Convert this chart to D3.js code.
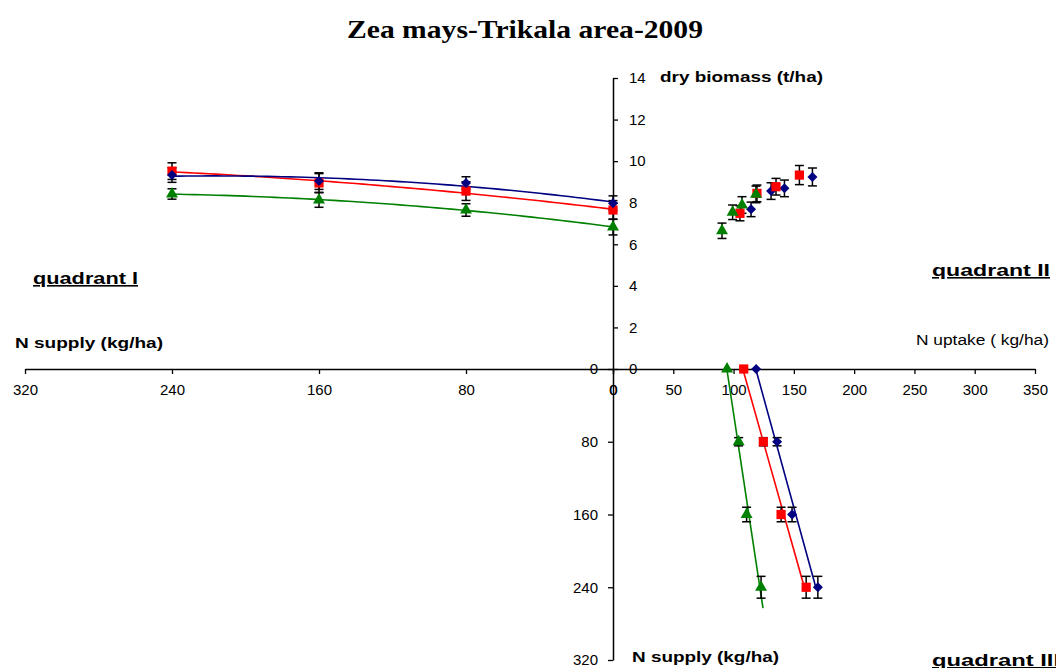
<!DOCTYPE html>
<html>
<head>
<meta charset="utf-8">
<script src="https://cdn.jsdelivr.net/npm/d3@7"></script>
<style>
  html, body { margin: 0; padding: 0; background: #fff; }
  svg { display: block; }
  text { font-family: "Liberation Sans", Arial, sans-serif; }
</style>
</head>
<body>
<svg id="chart" width="1056" height="668"></svg>
<script>
// ---------- tick labels ----------
const biomassTicks = [0, 2, 4, 6, 8, 10, 12, 14];
const supplyTicksLeft = [320, 240, 160, 80, 0];
const uptakeTicks = [0, 50, 100, 150, 200, 250, 300, 350];
const supplyTicksDown = [0, 80, 160, 240, 320];

// ---------- quadrant I : N supply vs dry biomass ----------
const q1Supply = [240, 160, 80, 0];
const q1Blue = [9.33, 9.04, 8.95, 7.98];
const q1Red = [9.52, 8.95, 8.56, 7.65];
const q1Green = [8.42, 8.13, 7.65, 6.83];
const q1BlueErr = [0.35, 0.4, 0.3, 0.35];
const q1RedErr = [0.4, 0.45, 0.45, 0.45];
const q1GreenErr = [0.25, 0.35, 0.3, 0.38];

// ---------- quadrant II : N uptake vs dry biomass ----------
const q2BlueUptake = [114.5, 131.1, 142.2, 165.4];
const q2BlueBiomass = [7.68, 8.56, 8.69, 9.24];
const q2RedUptake = [105.3, 119.4, 135.2, 154.6];
const q2RedBiomass = [7.49, 8.45, 8.77, 9.33];
const q2GreenUptake = [90.4, 99.2, 107.0, 118.6];
const q2GreenBiomass = [6.65, 7.54, 7.89, 8.40];
const q2BlueErr = [0.35, 0.4, 0.4, 0.43];
const q2RedErr = [0.36, 0.4, 0.4, 0.46];
const q2GreenErr = [0.37, 0.35, 0.4, 0.4];

// ---------- quadrant III : N uptake vs N supply ----------
const q3Supply = [0, 80, 160, 240];
const q3Blue = [118.7, 136.1, 148.5, 169.9];
const q3Red = [108.4, 124.7, 139.4, 160.2];
const q3Green = [94.6, 104.2, 110.8, 122.8];
const q3Err = [0, 4.5, 8, 12];
const q3TrendMax = [240, 240, 263]; // blue, red, green trend line extent

const colBlue = "#000080", colRed = "#ff0000", colGreen = "#008000";

const svg = d3.select("#chart");

// scales
const xL = d3.scaleLinear().domain([0, 320]).range([613, 25]);
const xU = d3.scaleLinear().domain([0, 350]).range([613, 1035]);
const yB = d3.scaleLinear().domain([0, 14]).range([369, 78]);
const yS = d3.scaleLinear().domain([0, 320]).range([369, 660]);

// title
svg.append("text").attr("x", 347).attr("y", 38)
  .style("font-family", "'Liberation Serif', 'Times New Roman', serif")
  .style("font-weight", "bold").style("font-size", "25px")
  .attr("textLength", 356).attr("lengthAdjust", "spacingAndGlyphs")
  .text("Zea mays-Trikala area-2009");

function styleAxis(g) {
  g.select(".domain").attr("stroke", "#000").attr("stroke-width", 1.5);
  g.selectAll(".tick line").attr("stroke", "#000").attr("stroke-width", 1.3);
  g.selectAll(".tick text").style("font-size", "15px").attr("fill", "#000")
    .style("font-family", "'Liberation Sans', Arial, sans-serif");
}

// axes
svg.append("g").attr("transform", "translate(0,369)")
  .call(d3.axisBottom(xL).tickValues(supplyTicksLeft).tickSize(5).tickSizeOuter(0).tickPadding(10))
  .call(styleAxis);
svg.append("g").attr("transform", "translate(0,369)")
  .call(d3.axisBottom(xU).tickValues(uptakeTicks).tickSize(5).tickSizeOuter(0).tickPadding(10))
  .call(styleAxis);
svg.append("g").attr("transform", "translate(613,0)")
  .call(d3.axisRight(yB).tickValues(biomassTicks).tickSize(5).tickSizeOuter(0).tickPadding(11))
  .call(styleAxis);
svg.append("g").attr("transform", "translate(613,0)")
  .call(d3.axisLeft(yS).tickValues(supplyTicksDown).tickSize(5).tickSizeOuter(0).tickPadding(10))
  .call(styleAxis);

// helpers
function errBar(g, x, y1, y2, cap) {
  g.append("line").attr("x1", x).attr("x2", x).attr("y1", y1).attr("y2", y2)
    .attr("stroke", "#000").attr("stroke-width", 1.5);
  [y1, y2].forEach(y => g.append("line").attr("x1", x - cap).attr("x2", x + cap)
    .attr("y1", y).attr("y2", y).attr("stroke", "#000").attr("stroke-width", 1.5));
}
const symBlue = d3.symbol().type(d3.symbolSquare).size(50);
const symRed = d3.symbol().type(d3.symbolSquare).size(85);
const symGreen = d3.symbol().type(d3.symbolTriangle).size(62);
function marker(g, sym, col, x, y, rot) {
  g.append("path").attr("d", sym()).attr("fill", col)
    .attr("transform", `translate(${x},${y}) rotate(${rot || 0})`);
}

// quadratic least-squares fit
function quadFit(xs, ys) {
  const n = xs.length;
  let S = [0, 0, 0, 0, 0], T = [0, 0, 0];
  for (let i = 0; i < n; i++) {
    const x = xs[i];
    for (let k = 0; k < 5; k++) S[k] += Math.pow(x, k);
    for (let k = 0; k < 3; k++) T[k] += ys[i] * Math.pow(x, k);
  }
  const M = [[S[0], S[1], S[2], T[0]], [S[1], S[2], S[3], T[1]], [S[2], S[3], S[4], T[2]]];
  for (let c = 0; c < 3; c++) {
    for (let r = c + 1; r < 3; r++) {
      const f = M[r][c] / M[c][c];
      for (let k = c; k < 4; k++) M[r][k] -= f * M[c][k];
    }
  }
  const a = [0, 0, 0];
  for (let r = 2; r >= 0; r--) {
    let s = M[r][3];
    for (let k = r + 1; k < 3; k++) s -= M[r][k] * a[k];
    a[r] = s / M[r][r];
  }
  return x => a[0] + a[1] * x + a[2] * x * x;
}
function linFit(xs, ys) {
  const mx = d3.mean(xs), my = d3.mean(ys);
  let num = 0, den = 0;
  xs.forEach((x, i) => { num += (x - mx) * (ys[i] - my); den += (x - mx) * (x - mx); });
  const b = num / den, a = my - b * mx;
  return x => a + b * x;
}

// ---------- quadrant I ----------
const g1 = svg.append("g");
const q1Series = [
  { v: q1Green, e: q1GreenErr, c: colGreen, s: symGreen, r: 0 },
  { v: q1Red, e: q1RedErr, c: colRed, s: symRed, r: 0 },
  { v: q1Blue, e: q1BlueErr, c: colBlue, s: symBlue, r: 45 }
];
q1Series.forEach(sr => {
  const f = quadFit(q1Supply, sr.v);
  const pts = d3.range(0, 241, 4).map(s => [xL(s), yB(f(s))]);
  g1.append("path").attr("d", d3.line()(pts)).attr("fill", "none")
    .attr("stroke", sr.c).attr("stroke-width", 1.6);
});
q1Series.forEach(sr => {
  q1Supply.forEach((s, i) => errBar(g1, xL(s), yB(sr.v[i] + sr.e[i]), yB(sr.v[i] - sr.e[i]), 4.5));
});
q1Series.forEach(sr => {
  q1Supply.forEach((s, i) => marker(g1, sr.s, sr.c, xL(s), yB(sr.v[i]), sr.r));
});

// ---------- quadrant II ----------
const g2 = svg.append("g");
const q2Series = [
  { x: q2BlueUptake, y: q2BlueBiomass, e: q2BlueErr, c: colBlue, s: symBlue, r: 45 },
  { x: q2RedUptake, y: q2RedBiomass, e: q2RedErr, c: colRed, s: symRed, r: 0 },
  { x: q2GreenUptake, y: q2GreenBiomass, e: q2GreenErr, c: colGreen, s: symGreen, r: 0 }
];
q2Series.forEach(sr => {
  sr.x.forEach((u, i) => errBar(g2, xU(u), yB(sr.y[i] + sr.e[i]), yB(sr.y[i] - sr.e[i]), 4.5));
});
q2Series.forEach(sr => {
  sr.x.forEach((u, i) => marker(g2, sr.s, sr.c, xU(u), yB(sr.y[i]), sr.r));
});

// ---------- quadrant III ----------
const g3 = svg.append("g");
const q3Series = [
  { v: q3Blue, c: colBlue, s: symBlue, m: q3TrendMax[0], r: 45 },
  { v: q3Red, c: colRed, s: symRed, m: q3TrendMax[1], r: 0 },
  { v: q3Green, c: colGreen, s: symGreen, m: q3TrendMax[2], r: 0 }
];
q3Series.forEach(sr => {
  const f = linFit(q3Supply, sr.v);
  g3.append("line").attr("x1", xU(f(0))).attr("y1", yS(0))
    .attr("x2", xU(f(sr.m))).attr("y2", yS(sr.m))
    .attr("stroke", sr.c).attr("stroke-width", 1.6);
});
q3Series.forEach(sr => {
  q3Supply.forEach((s, i) => {
    if (q3Err[i] > 0) errBar(g3, xU(sr.v[i]), yS(s - q3Err[i]), yS(s + q3Err[i]), 4.5);
  });
});
q3Series.forEach(sr => {
  q3Supply.forEach((s, i) => marker(g3, sr.s, sr.c, xU(sr.v[i]), yS(s), sr.r));
});

// ---------- labels ----------
function label(x, y, txt, opts) {
  const t = svg.append("text").attr("x", x).attr("y", y).text(txt)
    .style("font-size", (opts.size || 15) + "px")
    .style("font-weight", opts.bold ? "bold" : "normal")
    .attr("fill", "#000");
  if (opts.len) t.attr("textLength", opts.len).attr("lengthAdjust", "spacingAndGlyphs");
  if (opts.underline) t.style("text-decoration", "underline");
  return t;
}
label(660, 82, "dry biomass (t/ha)", { bold: true, size: 15, len: 163 });
label(15, 348, "N supply (kg/ha)", { bold: true, size: 15, len: 148 });
label(916, 345, "N uptake ( kg/ha)", { bold: false, size: 14, len: 133 });
label(632, 662, "N supply (kg/ha)", { bold: true, size: 15, len: 147 });
label(33, 284, "quadrant I", { bold: true, size: 16, len: 105, underline: true });
label(932, 276, "quadrant II", { bold: true, size: 16, len: 118, underline: true });
label(932, 666, "quadrant III", { bold: true, size: 16, len: 128, underline: true });
</script>
</body>
</html>
